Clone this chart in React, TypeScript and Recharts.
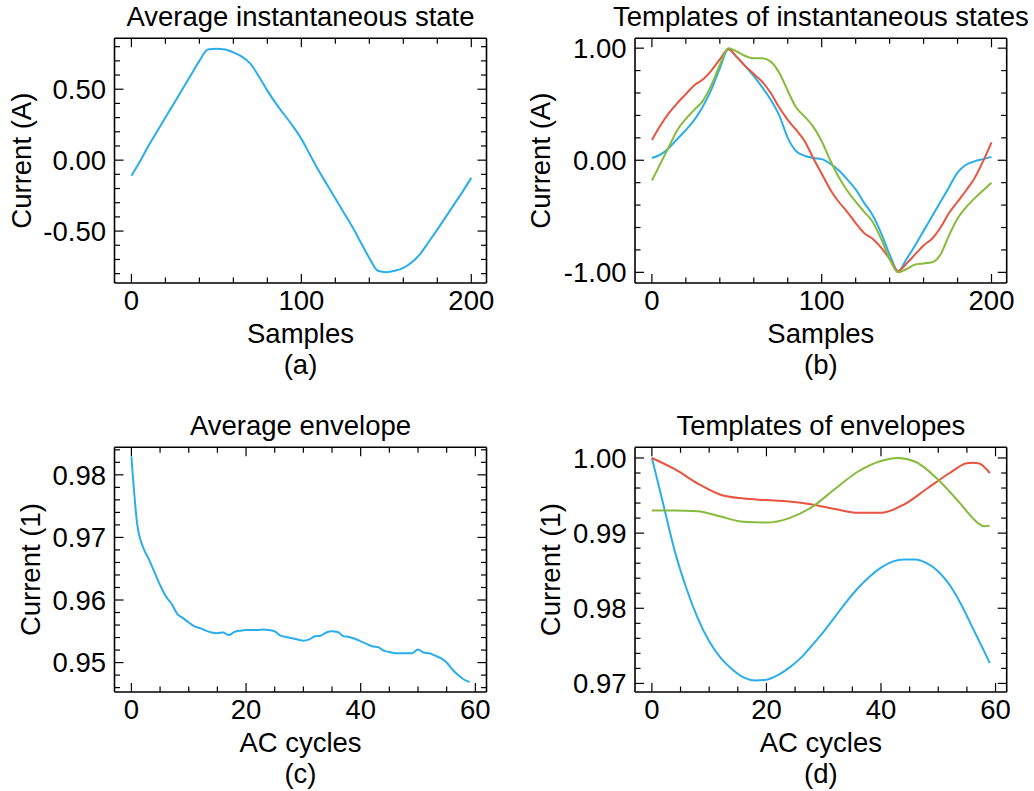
import React from "react";
import { LineChart, Line, XAxis, YAxis } from "recharts";

const W = 1034;
const H = 791;
const FONT = "'Liberation Sans', Arial, Helvetica, sans-serif";
const FS = 27.5;
const BLUE = "#2aaeea";
const RED = "#e8543f";
const GREEN = "#86bb3c";

// (a) average instantaneous state
const stateX = [
  0, 5, 10, 15, 20, 25, 30, 35, 40, 45, 50, 55, 60, 65, 70, 75, 80, 85, 90, 95, 100,
  105, 110, 115, 120, 125, 130, 135, 140, 145, 150, 155, 160, 165, 170, 175, 180, 185, 190, 195, 200,
];
const avgState = [
  -0.11, -0.01, 0.1, 0.2, 0.3, 0.4, 0.5, 0.6, 0.7, 0.78, 0.785, 0.78, 0.76, 0.73, 0.68, 0.59, 0.49,
  0.4, 0.32, 0.24, 0.15, 0.04, -0.07, -0.17, -0.27, -0.37, -0.47, -0.58, -0.69, -0.78, -0.79, -0.78,
  -0.76, -0.72, -0.66, -0.575, -0.49, -0.4, -0.31, -0.22, -0.125,
];

// (b) templates of instantaneous states
const stateBlue = [
  0.02, 0.05, 0.11, 0.19, 0.27, 0.36, 0.48, 0.63, 0.82, 0.99, 0.92, 0.84, 0.75, 0.65, 0.54, 0.4, 0.2,
  0.08, 0.04, 0.02, 0.01, -0.03, -0.09, -0.17, -0.26, -0.38, -0.49, -0.65, -0.84, -0.99, -0.88, -0.76,
  -0.63, -0.5, -0.37, -0.24, -0.11, -0.04, -0.01, 0.01, 0.03,
];
const stateRed = [
  0.18, 0.31, 0.42, 0.51, 0.59, 0.67, 0.72, 0.8, 0.9, 0.99, 0.92, 0.84, 0.77, 0.7, 0.6, 0.47, 0.36,
  0.27, 0.17, 0.02, -0.12, -0.26, -0.37, -0.46, -0.56, -0.65, -0.7, -0.78, -0.88, -0.99, -0.92, -0.84,
  -0.76, -0.7, -0.6, -0.47, -0.37, -0.27, -0.16, -0.01, 0.16,
];
const stateGreen = [
  -0.18, -0.03, 0.12, 0.27, 0.37, 0.45, 0.53, 0.67, 0.85, 1.0, 0.97, 0.93, 0.91, 0.91, 0.88, 0.78,
  0.62, 0.47, 0.39, 0.3, 0.17, 0.0, -0.15, -0.27, -0.37, -0.46, -0.55, -0.7, -0.88, -1.0, -0.97, -0.93,
  -0.92, -0.91, -0.84, -0.67, -0.52, -0.42, -0.34, -0.27, -0.2,
];

// (c) average envelope
const cycleX = [
  0, 1, 2, 3, 4, 5, 6, 7, 8, 9, 10, 11, 12, 13, 14, 15, 16, 17, 18, 19, 20, 21, 22, 23, 24, 25, 26, 27,
  28, 29, 30, 31, 32, 33, 34, 35, 36, 37, 38, 39, 40, 41, 42, 43, 44, 45, 46, 47, 48, 49, 50, 51, 52,
  53, 54, 55, 56, 57, 58, 59,
];
const avgEnvelope = [
  0.9829, 0.9722, 0.9685, 0.9666, 0.9645, 0.9624, 0.9606, 0.9594, 0.9578, 0.9571, 0.9564, 0.9558,
  0.9555, 0.9551, 0.9548, 0.9547, 0.9548, 0.9544, 0.9549, 0.9551, 0.9552, 0.9552, 0.9552, 0.9553,
  0.9552, 0.955, 0.9543, 0.9541, 0.9539, 0.9537, 0.9535, 0.9537, 0.9542, 0.9543, 0.9548, 0.955,
  0.9549, 0.9542, 0.9541, 0.9538, 0.9534, 0.953, 0.9526, 0.9525, 0.9519, 0.9517, 0.9515, 0.9515,
  0.9515, 0.9515, 0.9521, 0.9516, 0.9515, 0.9511, 0.9507, 0.95, 0.9489, 0.948, 0.9473, 0.9469,
];

// (d) templates of envelopes
const envBlueX = [
  0, 2, 4, 6, 8, 10, 12, 14, 16, 18, 20, 22, 24, 26, 28, 30, 32, 34, 36, 38, 40, 42, 44, 46, 48, 50,
  52, 54, 56, 58, 59,
];
const envBlue = [
  1.0, 0.9938, 0.9876, 0.9827, 0.9787, 0.9756, 0.9734, 0.9719, 0.9708, 0.9704, 0.9705, 0.9711,
  0.9721, 0.9734, 0.9751, 0.9769, 0.9789, 0.9809, 0.9827, 0.9842, 0.9854, 0.9862, 0.9865, 0.9865,
  0.986, 0.9849, 0.9831, 0.9805, 0.9774, 0.9743, 0.9727,
];
const envRedX = [0, 4, 8, 12, 16, 20, 24, 28, 32, 36, 40, 44, 48, 52, 55, 56, 57, 59];
const envRed = [
  1.0, 0.9985, 0.9966, 0.9951, 0.9946, 0.9944, 0.9942, 0.9938, 0.9932, 0.9927, 0.9927, 0.9938,
  0.9959, 0.998, 0.9993, 0.99935, 0.9993, 0.998,
];
const envGreenX = [0, 4, 8, 12, 16, 20, 24, 28, 32, 36, 40, 43, 46, 50, 52, 54, 56, 57, 58, 59];
const envGreen = [
  0.993, 0.993, 0.9929, 0.9922, 0.9915, 0.9914, 0.992, 0.9935, 0.9959, 0.9982, 0.9996, 1.0, 0.9995,
  0.9971, 0.9955, 0.9938, 0.992, 0.9913, 0.9909, 0.991,
];

// tick positions
const sampleTicks = [0, 20, 40, 60, 80, 100, 120, 140, 160, 180, 200];
const cycleTicks = [0, 5, 10, 15, 20, 25, 30, 35, 40, 45, 50, 55, 60];
const avgStateTicks = [-0.8, -0.7, -0.6, -0.5, -0.4, -0.3, -0.2, -0.1, 0, 0.1, 0.2, 0.3, 0.4, 0.5, 0.6, 0.7, 0.8];
const stateTicks = [-1, -0.8, -0.6, -0.4, -0.2, 0, 0.2, 0.4, 0.6, 0.8, 1];
const avgEnvTicks = [
  0.946, 0.948, 0.95, 0.952, 0.954, 0.956, 0.958, 0.96, 0.962, 0.964, 0.966, 0.968, 0.97, 0.972,
  0.974, 0.976, 0.978, 0.98, 0.982, 0.984,
];
const envTicks = [
  0.97, 0.972, 0.974, 0.976, 0.978, 0.98, 0.982, 0.984, 0.986, 0.988, 0.99, 0.992, 0.994, 0.996,
  0.998, 1.0,
];

const pts = (xs: number[], ys: number[]) => xs.map((x, i) => ({ x, y: ys[i] }));
const near = (v: number, step: number) => Math.abs(v / step - Math.round(v / step)) < 1e-6;
const f2 = (v: number) => v.toFixed(2);

const MAJOR = 9;
const MINOR = 5.5;

const XTick = ({ x, y, payload, side, major, fmt }: any) => {
  const m = major(payload.value);
  const dir = side === "bottom" ? -1 : 1;
  return (
    <g>
      <line x1={x} x2={x} y1={y} y2={y + dir * (m ? MAJOR : MINOR)} stroke="#000" strokeWidth={1.2} />
      {side === "bottom" && m && (
        <text x={x} y={y + 27.3} textAnchor="middle" fontSize={FS} fontFamily={FONT} fill="#000">
          {fmt(payload.value)}
        </text>
      )}
    </g>
  );
};

const YTick = ({ x, y, payload, side, major, fmt }: any) => {
  const m = major(payload.value);
  const dir = side === "left" ? 1 : -1;
  return (
    <g>
      <line x1={x} x2={x + dir * (m ? MAJOR : MINOR)} y1={y} y2={y} stroke="#000" strokeWidth={1.2} />
      {side === "left" && m && (
        <text x={x - 8.5} y={y} dy="0.36em" textAnchor="end" fontSize={FS} fontFamily={FONT} fill="#000">
          {fmt(payload.value)}
        </text>
      )}
    </g>
  );
};

const frame = { stroke: "#000", strokeWidth: 1.6 };

const Panel = ({ box, xDomain, yDomain, xTicks, yTicks, xMajor, yMajor, series }: any) => {
  const common = { allowDataOverflow: true, interval: 0 as const, tickSize: 0, tickMargin: 0, tickLine: false, axisLine: frame };
  return (
    <div style={{ position: "absolute", left: 0, top: 0 }}>
      <LineChart
        width={W}
        height={H}
        margin={{ top: box.top - 1, right: W - box.right - 1, bottom: H - box.bottom - 1, left: 0 }}
      >
        <XAxis
          {...common}
          xAxisId="x"
          type="number"
          dataKey="x"
          domain={xDomain}
          ticks={xTicks}
          height={1}
          tick={(p: any) => <XTick {...p} side="bottom" major={xMajor} fmt={String} />}
        />
        <XAxis
          {...common}
          xAxisId="xt"
          orientation="top"
          type="number"
          dataKey="x"
          domain={xDomain}
          ticks={xTicks}
          height={1}
          tick={(p: any) => <XTick {...p} side="top" major={xMajor} fmt={String} />}
        />
        <YAxis
          {...common}
          yAxisId="y"
          type="number"
          domain={yDomain}
          ticks={yTicks}
          width={box.left}
          tick={(p: any) => <YTick {...p} side="left" major={yMajor} fmt={f2} />}
        />
        <YAxis
          {...common}
          yAxisId="yr"
          orientation="right"
          type="number"
          domain={yDomain}
          ticks={yTicks}
          width={1}
          tick={(p: any) => <YTick {...p} side="right" major={yMajor} fmt={f2} />}
        />
        {series.map((s: any, i: number) => (
          <Line
            key={i}
            xAxisId="x"
            yAxisId="y"
            data={s.data}
            dataKey="y"
            type="monotone"
            stroke={s.color}
            strokeWidth={2}
            dot={false}
            activeDot={false}
            isAnimationActive={false}
          />
        ))}
      </LineChart>
    </div>
  );
};

const T = ({ x, y, children, rotate }: any) => (
  <text
    x={x}
    y={y}
    textAnchor="middle"
    fontSize={FS}
    fontFamily={FONT}
    fill="#000"
    transform={rotate ? `rotate(-90 ${x} ${y})` : undefined}
  >
    {children}
  </text>
);

const boxA = { left: 114.5, top: 38.3, right: 486.5, bottom: 283 };
const boxB = { left: 635, top: 38.3, right: 1006.7, bottom: 283 };
const boxC = { left: 114.5, top: 447.3, right: 486.5, bottom: 692 };
const boxD = { left: 635, top: 447.3, right: 1006.7, bottom: 692 };
const cx = (b: any) => (b.left + b.right) / 2;
const cy = (b: any) => (b.top + b.bottom) / 2;

export default function App() {
  return (
    <div style={{ position: "absolute", left: 0, top: 0, width: W, height: H, background: "#fff" }}>
      <Panel
        box={boxA}
        xDomain={[-9.95, 208.95]}
        yDomain={[-0.866, 0.859]}
        xTicks={sampleTicks}
        yTicks={avgStateTicks}
        xMajor={(v: number) => near(v, 100)}
        yMajor={(v: number) => near(v, 0.5)}
        series={[{ data: pts(stateX, avgState), color: BLUE }]}
      />
      <Panel
        box={boxB}
        xDomain={[-9.95, 208.95]}
        yDomain={[-1.095, 1.088]}
        xTicks={sampleTicks}
        yTicks={stateTicks}
        xMajor={(v: number) => near(v, 100)}
        yMajor={(v: number) => near(v, 1)}
        series={[
          { data: pts(stateX, stateBlue), color: BLUE },
          { data: pts(stateX, stateRed), color: RED },
          { data: pts(stateX, stateGreen), color: GREEN },
        ]}
      />
      <Panel
        box={boxC}
        xDomain={[-2.95, 61.95]}
        yDomain={[0.9453, 0.9844]}
        xTicks={cycleTicks}
        yTicks={avgEnvTicks}
        xMajor={(v: number) => near(v, 20)}
        yMajor={(v: number) => near(v, 0.01)}
        series={[{ data: pts(cycleX, avgEnvelope), color: BLUE }]}
      />
      <Panel
        box={boxD}
        xDomain={[-2.95, 61.95]}
        yDomain={[0.96886, 1.00142]}
        xTicks={cycleTicks}
        yTicks={envTicks}
        xMajor={(v: number) => near(v, 20)}
        yMajor={(v: number) => near(v, 0.01)}
        series={[
          { data: pts(envBlueX, envBlue), color: BLUE },
          { data: pts(envRedX, envRed), color: RED },
          { data: pts(envGreenX, envGreen), color: GREEN },
        ]}
      />
      <svg width={W} height={H} style={{ position: "absolute", left: 0, top: 0, pointerEvents: "none" }}>
        <T x={cx(boxA)} y={26}>Average instantaneous state</T>
        <T x={cx(boxB)} y={26}>Templates of instantaneous states</T>
        <T x={cx(boxC)} y={434.5}>Average envelope</T>
        <T x={cx(boxD)} y={434.5}>Templates of envelopes</T>
        <T x={cx(boxA)} y={342.5}>Samples</T>
        <T x={cx(boxB)} y={342.5}>Samples</T>
        <T x={cx(boxA)} y={374}>(a)</T>
        <T x={cx(boxB)} y={374}>(b)</T>
        <T x={cx(boxC)} y={751.5}>AC cycles</T>
        <T x={cx(boxD)} y={751.5}>AC cycles</T>
        <T x={cx(boxC)} y={783}>(c)</T>
        <T x={cx(boxD)} y={783}>(d)</T>
        <T x={31.5} y={cy(boxA)} rotate>Current (A)</T>
        <T x={550} y={cy(boxB)} rotate>Current (A)</T>
        <T x={40.5} y={cy(boxC)} rotate>Current (1)</T>
        <T x={560} y={cy(boxD)} rotate>Current (1)</T>
      </svg>
    </div>
  );
}
